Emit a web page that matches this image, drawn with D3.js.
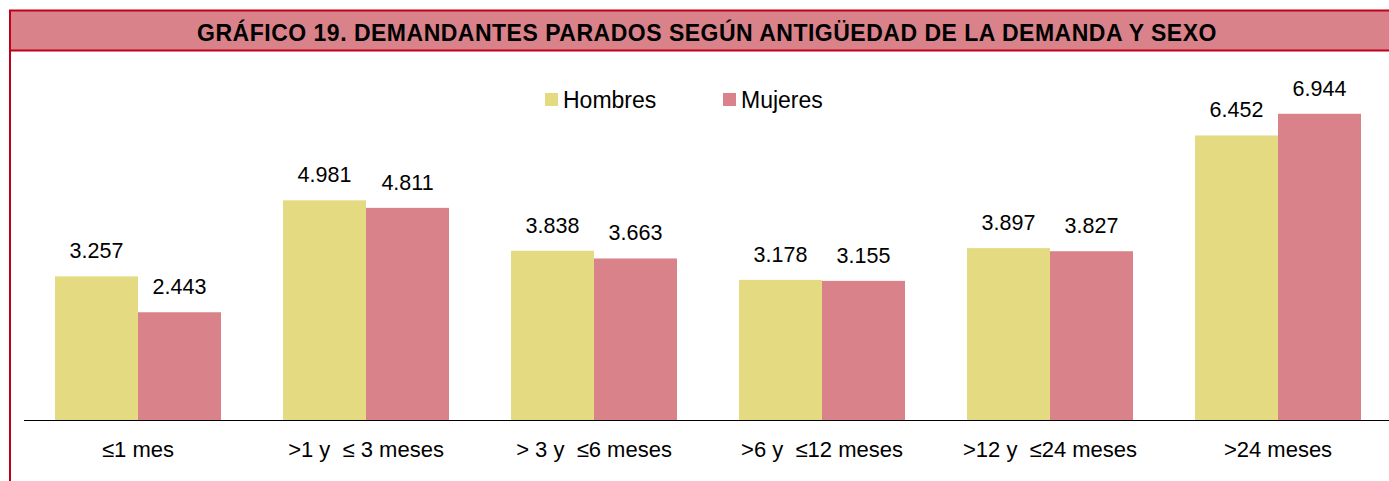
<!DOCTYPE html>
<html>
<head>
<meta charset="utf-8">
<script src="https://cdn.jsdelivr.net/npm/d3@7"></script>
<style>
  body { margin: 0; background: #fff; }
  text { font-family: Arial, "Liberation Sans", sans-serif; white-space: pre; }
</style>
</head>
<body>
<div id="chart-area"></div>
<script>
// --- Data ---
var categories = ["≤1 mes", ">1 y  ≤ 3 meses", "> 3 y  ≤6 meses", ">6 y  ≤12 meses", ">12 y  ≤24 meses", ">24 meses"];
var seriesNames = ["Hombres", "Mujeres"];
var hombres = [3257, 4981, 3838, 3178, 3897, 6452];
var mujeres = [2443, 4811, 3663, 3155, 3827, 6944];
var titleText = "GRÁFICO 19. DEMANDANTES PARADOS SEGÚN ANTIGÜEDAD DE LA DEMANDA Y SEXO";

var colors = { Hombres: "#e3da82", Mujeres: "#d9828a" };
var borderColor = "#c0001a";

// --- Canvas ---
var canvasWidth = 1389;
var canvasHeight = 481;
var canvas = d3.select("#chart-area").append("svg")
  .attr("width", canvasWidth)
  .attr("height", canvasHeight);

// frame + title band
canvas.append("rect")
  .attr("x", 10).attr("y", 10.5)
  .attr("width", 1400).attr("height", 40)
  .attr("fill", "#d9828a")
  .attr("stroke", borderColor)
  .attr("stroke-width", 2);
canvas.append("line")
  .attr("x1", 10).attr("x2", 10)
  .attr("y1", 10).attr("y2", canvasHeight)
  .attr("stroke", borderColor)
  .attr("stroke-width", 2);

canvas.append("text")
  .text(titleText)
  .attr("x", 707)
  .attr("y", 41)
  .attr("text-anchor", "middle")
  .attr("font-size", "23px")
  .attr("letter-spacing", "0.5px")
  .attr("font-weight", "bold")
  .attr("fill", "#000");

// --- Scales ---
var baseline = 420;
var x0 = d3.scaleBand()
  .domain(categories)
  .range([24, 24 + 228 * categories.length])
  .paddingInner(62 / 228)
  .paddingOuter(31 / 228);
var x1 = d3.scaleBand()
  .domain(seriesNames)
  .range([0, x0.bandwidth()]);
var y = d3.scaleLinear()
  .domain([0, 8000])
  .range([baseline, baseline - 352.8]);

var table = categories.map(function(c, i) {
  return { cat: c, values: [
    { name: "Hombres", value: hombres[i] },
    { name: "Mujeres", value: mujeres[i] }
  ]};
});

var groups = canvas.selectAll("g.group")
  .data(table)
  .enter().append("g")
  .attr("class", "group")
  .attr("transform", function(d) { return "translate(" + x0(d.cat) + ",0)"; });

groups.selectAll("rect")
  .data(function(d) { return d.values; })
  .enter().append("rect")
  .attr("x", function(d) { return x1(d.name); })
  .attr("y", function(d) { return y(d.value); })
  .attr("width", x1.bandwidth())
  .attr("height", function(d) { return baseline - y(d.value); })
  .attr("fill", function(d) { return colors[d.name]; });

var fmt = function(v) { return d3.format(",")(v).replace(",", "."); };
groups.selectAll("text.val")
  .data(function(d) { return d.values; })
  .enter().append("text")
  .attr("class", "val")
  .attr("x", function(d) { return x1(d.name) + x1.bandwidth() / 2; })
  .attr("y", function(d) { return y(d.value) - 18; })
  .attr("text-anchor", "middle")
  .attr("font-size", "21.5px")
  .attr("fill", "#000")
  .text(function(d) { return fmt(d.value); });

// --- Axis ---
var xAxisGroup = canvas.append("g")
  .attr("transform", "translate(0," + baseline + ")")
  .call(d3.axisBottom(x0).tickSize(0).tickPadding(21));
xAxisGroup.select(".domain")
  .attr("d", "M24,0.5H" + canvasWidth)
  .attr("stroke", "#000");
xAxisGroup.selectAll("text")
  .attr("font-size", "22px")
  .attr("font-family", "Arial, 'Liberation Sans', sans-serif")
  .attr("fill", "#000");

// --- Legend ---
var legendItems = [
  { name: "Hombres", x: 545 },
  { name: "Mujeres", x: 723 }
];
legendItems.forEach(function(item) {
  canvas.append("rect")
    .attr("x", item.x).attr("y", 93)
    .attr("width", 13).attr("height", 13)
    .attr("fill", colors[item.name]);
  canvas.append("text")
    .attr("x", item.x + 18).attr("y", 107.5)
    .attr("font-size", "23px")
    .attr("fill", "#000")
    .text(item.name);
});
</script>
</body>
</html>
